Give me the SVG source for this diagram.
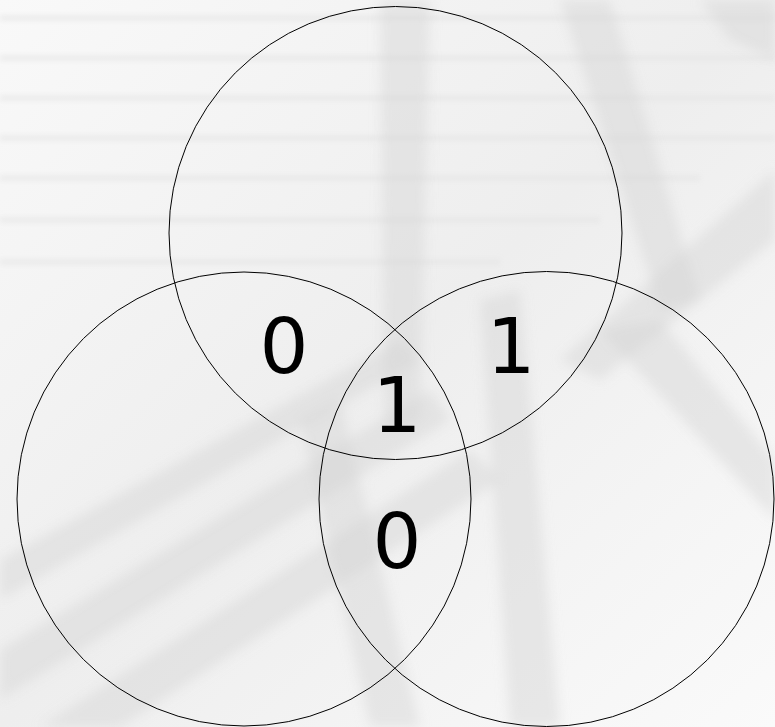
<svg xmlns="http://www.w3.org/2000/svg" width="775" height="727" viewBox="0 0 775 727">
  <defs>
    <filter id="soft" x="-20%" y="-20%" width="140%" height="140%">
      <feGaussianBlur stdDeviation="6"/>
    </filter>
    <filter id="soft2" x="-20%" y="-20%" width="140%" height="140%">
      <feGaussianBlur stdDeviation="2.5"/>
    </filter>
    <linearGradient id="bg" x1="0" y1="0" x2="1" y2="1">
      <stop offset="0" stop-color="#f9f9f9"/>
      <stop offset="0.5" stop-color="#eeeeee"/>
      <stop offset="1" stop-color="#fafafa"/>
    </linearGradient>
  </defs>
  <style>
    .ring { fill: none; stroke: #000; stroke-width: 1; }
    .lbl { font-family: "DejaVu Sans", Verdana, sans-serif; font-size: 77px; fill: #000; text-anchor: middle; }
    .streak { fill: #d4d4d4; opacity: 0.45; }
    .hline { stroke: #e6e6e6; stroke-width: 5; opacity: 0.7; }
  </style>

  <g id="background">
    <rect x="0" y="0" width="775" height="727" fill="url(#bg)"/>
    <g filter="url(#soft2)">
      <line class="hline" x1="0" y1="18" x2="775" y2="18"/>
      <line class="hline" x1="0" y1="58" x2="775" y2="58"/>
      <line class="hline" x1="0" y1="98" x2="775" y2="98"/>
      <line class="hline" x1="0" y1="138" x2="775" y2="138"/>
      <line class="hline" x1="0" y1="178" x2="700" y2="178"/>
      <line class="hline" x1="0" y1="220" x2="600" y2="220"/>
      <line class="hline" x1="0" y1="262" x2="500" y2="262"/>
    </g>
    <g filter="url(#soft)">
      <polygon class="streak" points="380,0 430,0 420,420 385,430"/>
      <polygon class="streak" points="560,0 610,0 700,300 660,310"/>
      <polygon class="streak" points="700,0 775,0 775,60 730,40"/>
      <polygon class="streak" points="775,170 775,240 600,380 560,360"/>
      <polygon class="streak" points="0,650 0,700 450,420 430,390"/>
      <polygon class="streak" points="0,560 0,600 420,360 400,340"/>
      <polygon class="streak" points="40,727 120,727 500,480 470,450"/>
      <polygon class="streak" points="300,420 340,400 420,727 370,727"/>
      <polygon class="streak" points="480,300 520,290 560,727 510,727"/>
      <polygon class="streak" points="600,330 660,320 775,460 775,520"/>
    </g>
  </g>

  <g id="circle-top">
    <circle class="ring" cx="395.5" cy="233" r="226.5"/>
  </g>
  <g id="circle-left">
    <circle class="ring" cx="244" cy="499" r="227"/>
  </g>
  <g id="circle-right">
    <circle class="ring" cx="546.5" cy="499" r="227.5"/>
  </g>

  <g id="labels">
    <text class="lbl" x="284" y="373">0</text>
    <text class="lbl" x="511" y="373">1</text>
    <text class="lbl" x="397" y="432">1</text>
    <text class="lbl" x="397" y="568">0</text>
  </g>
</svg>
